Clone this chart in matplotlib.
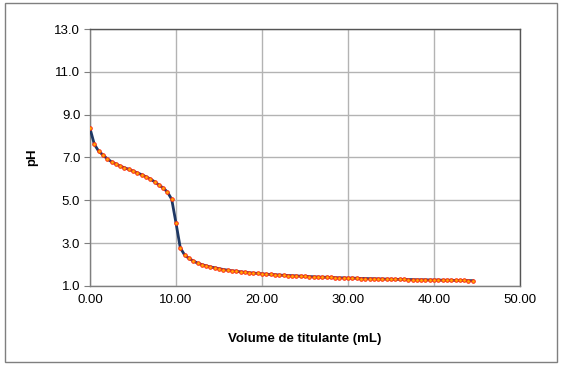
import matplotlib
matplotlib.use("Agg")
import matplotlib.pyplot as plt
from matplotlib.patches import Rectangle

plt.rcParams['font.family'] = ['Liberation Sans', 'DejaVu Sans']

volume = [i * 0.5 for i in range(90)]
ph = [8.36, 7.62, 7.30, 7.12, 6.94, 6.80, 6.70, 6.60, 6.52, 6.45,
      6.37, 6.28, 6.20, 6.10, 6.00, 5.87, 5.72, 5.58, 5.39, 5.05,
      3.94, 2.78, 2.45, 2.29, 2.17, 2.07, 2.00, 1.94, 1.89, 1.85,
      1.81, 1.77, 1.74, 1.71, 1.69, 1.66, 1.64, 1.62, 1.60, 1.59,
      1.57, 1.55, 1.54, 1.53, 1.51, 1.50, 1.49, 1.48, 1.47, 1.46,
      1.45, 1.44, 1.43, 1.42, 1.41, 1.41, 1.40, 1.39, 1.38, 1.38,
      1.37, 1.37, 1.36, 1.35, 1.35, 1.34, 1.34, 1.33, 1.33, 1.32,
      1.32, 1.31, 1.31, 1.31, 1.30, 1.30, 1.29, 1.29, 1.29, 1.28,
      1.28, 1.28, 1.27, 1.27, 1.27, 1.26, 1.26, 1.26, 1.25, 1.25]

xticks = [0, 10, 20, 30, 40, 50]
yticks = [1, 3, 5, 7, 9, 11, 13]

fig = plt.figure(figsize=(5.64, 3.67), dpi=100)
fig.patches.append(Rectangle((5/564, 1 - 362/367), 552/564, 359/367,
                             transform=fig.transFigure, fill=False,
                             edgecolor='#7f7f7f', linewidth=1.0))
ax = fig.add_axes([90/564, 1 - 286/367, 430/564, 257/367])

ax.plot(volume, ph, color='#1f3864', linewidth=2.0, zorder=3)
ax.plot(volume, ph, linestyle='none', marker='o', markersize=2.6,
        markerfacecolor='#ffb000', markeredgecolor='#ff3018',
        markeredgewidth=0.7, zorder=4)

ax.set_xlim(0, 50)
ax.set_ylim(1, 13)
ax.set_xticks(xticks)
ax.set_yticks(yticks)
ax.set_xticklabels([f"{v:.2f}" for v in xticks], fontsize=9.5)
ax.set_yticklabels([f"{v:.1f}" for v in yticks], fontsize=9.5)
ax.grid(True, color='#b3b3b3', linewidth=1.0)
ax.set_axisbelow(True)
for s in ax.spines.values():
    s.set_color('#7f7f7f')
    s.set_linewidth(1.0)
ax.spines['top'].set_color('#555555')
ax.spines['right'].set_color('#555555')
ax.tick_params(axis='both', length=4, color='#7f7f7f', pad=3)
ax.tick_params(axis='x', length=0, pad=6)

ax.set_xlabel('Volume de titulante (mL)', fontsize=9.5, fontweight='bold', labelpad=19)
ax.set_ylabel('pH', fontsize=9.5, fontweight='bold', labelpad=12)

fig.savefig('out.png', dpi=100)
